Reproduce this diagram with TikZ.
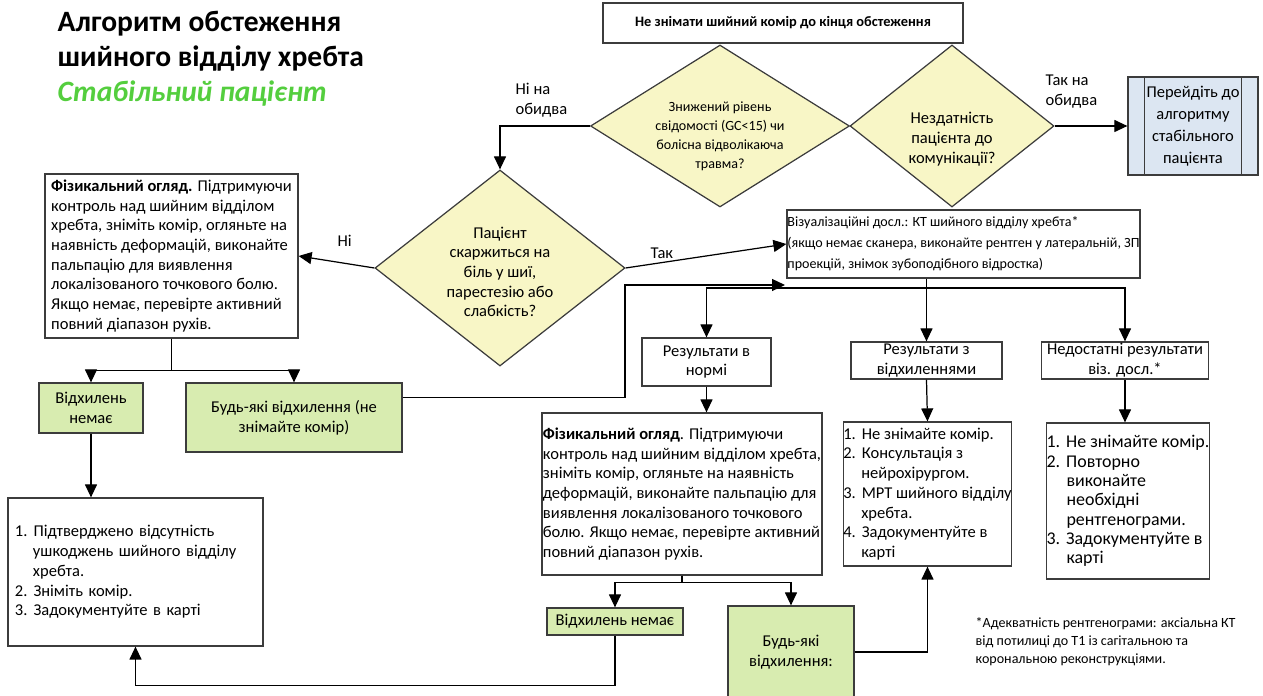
\documentclass[tikz,border=0pt]{standalone}
\usepackage{fontspec}
\setmainfont{Carlito}
\usetikzlibrary{shapes.geometric,arrows.meta}

\definecolor{dia}{RGB}{248,246,198}
\definecolor{okgreen}{RGB}{216,236,176}
\definecolor{bluebox}{RGB}{220,230,242}
\definecolor{titlegreen}{RGB}{84,206,62}
\definecolor{edge}{RGB}{60,60,60}

\tikzset{
        box/.style = {rectangle, draw=edge, line width=0.35pt, fill=white, inner sep=0pt, align=center},
        good/.style = {fill=okgreen},
        dec/.style = {diamond, draw=edge, line width=0.35pt, fill=dia, inner sep=0pt, align=center},
        go/.style = {-{Triangle[length=1.3mm,width=1.2mm]}, line width=0.35pt},
        lab/.style = {inner sep=0pt, align=left, anchor=west}
    }

\begin{document}
\begin{tikzpicture}[x=1cm,y=1cm,every node/.style={font=\fontsize{4.7}{5.6}\selectfont}]
            \useasboundingbox (0,0) rectangle (12.63,-6.96);

            \node[anchor=west, align=left, inner sep=0pt, font=\fontsize{8.4}{10}\selectfont\bfseries] (title) at (0.57,-0.59) {Алгоритм обстеження\\ шийного відділу хребта\\ \textcolor{titlegreen}{\itshape Стабільний пацієнт}};

            \node[box, font=\fontsize{4.1}{5.6}\selectfont\bfseries, minimum width=3.6cm, minimum height=0.4cm] (top) at (7.83,-0.23) {Не знімати шийний комір до кінця обстеження};

            \node[dec, minimum width=2.59cm, minimum height=1.62cm,
                label={[align=center, yshift=-0.1cm, font=\fontsize{4.0}{5.4}\selectfont]center:Знижений рівень\\ свідомості (GC<15) чи\\ болісна відволікаюча\\ травма?}] (d1) at (7.2,-1.26) {};
            \node[dec, minimum width=2.04cm, minimum height=1.62cm,
                label={[align=center, yshift=-0.13cm]center:Нездатність\\ пацієнта до\\ комунікації?}] (d2) at (9.52,-1.26) {};
            \node[box, fill=bluebox, minimum width=1.3cm, minimum height=0.98cm, font=\fontsize{4.7}{6.2}\selectfont] (stable) at (11.93,-1.26) {Перейдіть до\\ алгоритму\\ стабільного\\ пацієнта};
            \draw[line width=0.35pt, draw=edge] ([xshift=0.17cm]stable.north west) -- ([xshift=0.17cm]stable.south west)
                ([xshift=-0.17cm]stable.north east) -- ([xshift=-0.17cm]stable.south east);

            \node[dec, minimum width=2.5cm, minimum height=1.96cm,
                label={[align=center, yshift=-0.04cm]center:Пацієнт\\ скаржиться на\\ біль у шиї,\\ парестезію або\\ слабкість?}] (d3) at (5.0,-2.68) {};

            \node[box, align=left, minimum width=2.53cm, minimum height=1.64cm] (exam1) at (1.715,-2.56) {\textbf{Фізикальний огляд.} Підтримуючи\\ контроль над шийним відділом\\ хребта, зніміть комір, огляньте на\\ наявність деформацій, виконайте\\ пальпацію для виявлення\\ локалізованого точкового болю.\\ Якщо немає, перевірте активний\\ повний діапазон рухів.};

            \node[box, good, minimum width=1.04cm, minimum height=0.5cm] (none1) at (0.91,-4.08) {Відхилень\\ немає};
            \node[box, good, minimum width=2.16cm, minimum height=0.69cm] (any1) at (2.94,-4.175) {Будь-які відхилення (не\\ знімайте комір)};
            \node[box, align=left, text width=2.41cm, inner xsep=0.07cm, minimum height=1.48cm] (done) at (1.355,-5.72) {1.\hspace{0.06cm}Підтверджено відсутність\\ \hspace*{0.18cm}ушкоджень шийного відділу\\ \hspace*{0.18cm}хребта.\\ 2.\hspace{0.06cm}Зніміть комір.\\ 3.\hspace{0.06cm}Задокументуйте в карті};

            \node[box, align=left, minimum width=3.53cm, minimum height=0.68cm, font=\fontsize{4.0}{6}\selectfont] (imaging) at (9.635,-2.44) {Візуалізаційні досл.: КТ шийного відділу хребта*\\ (якщо немає сканера, виконайте рентген у латеральній, ЗП\\ проекцій, знімок зубоподібного відростка)};

            \node[box, minimum width=1.29cm, minimum height=0.48cm] (normal) at (7.065,-3.62) {Результати в\\ нормі};
            \node[box, minimum width=1.51cm, minimum height=0.37cm] (abnormal) at (9.265,-3.605) {Результати з\\ відхиленнями};
            \node[box, minimum width=1.67cm, minimum height=0.37cm] (poor) at (11.25,-3.605) {Недостатні результати\\ віз. досл.*};

            \node[box, align=left, minimum width=2.8cm, minimum height=1.62cm] (exam2) at (6.82,-4.94) {\textbf{Фізикальний огляд}. Підтримуючи\\ контроль над шийним відділом хребта,\\ зніміть комір, огляньте на наявність\\ деформацій, виконайте пальпацію для\\ виявлення локалізованого точкового\\ болю. Якщо немає, перевірте активний\\ повний діапазон рухів.};
            \node[box, good, minimum width=1.36cm, minimum height=0.27cm] (none2) at (6.15,-6.215) {Відхилень немає};
            \node[box, good, minimum width=1.26cm, minimum height=0.92cm] (any2) at (7.91,-6.52) {Будь-які\\ відхилення:};

            \node[box, align=left, minimum width=1.63cm, minimum height=1.44cm] (consult) at (9.275,-4.94) {1.\hspace{0.06cm}Не знімайте комір.\\ 2.\hspace{0.06cm}Консультація з\\ \hspace*{0.18cm}нейрохірургом.\\ 3.\hspace{0.06cm}МРТ шийного відділу\\ \hspace*{0.18cm}хребта.\\ 4.\hspace{0.06cm}Задокументуйте в\\ \hspace*{0.18cm}карті};
            \node[box, align=left, minimum width=1.62cm, minimum height=1.56cm, font=\fontsize{5.1}{5.5}\selectfont] (repeat) at (11.28,-5.01) {1.\hspace{0.06cm}Не знімайте комір.\\ 2.\hspace{0.06cm}Повторно\\ \hspace*{0.2cm}виконайте\\ \hspace*{0.2cm}необхідні\\ \hspace*{0.2cm}рентгенограми.\\ 3.\hspace{0.06cm}Задокументуйте в\\ \hspace*{0.2cm}карті};

            \node[lab, font=\fontsize{4.0}{5.1}\selectfont] (note) at (9.75,-6.42) {*Адекватність рентгенограми: аксіальна КТ\\ від потилиці до Т1 із сагітальною та\\ корональною реконструкціями.};

            % labels on the arrows
            \node[lab] (nobothlab) at (5.15,-1.0) {Ні на\\ обидва};
            \node[lab] (yesbothlab) at (10.45,-0.915) {Так на\\ обидва};
            \node[lab] (nolab) at (3.37,-2.41) {Ні};
            \node[lab] (yeslab) at (6.5,-2.53) {Так};

            % arrows
            \draw[go] (d1.west) -| (d3.north);
            \draw[go] (d2.east) -- (stable.west);
            \draw[go] (d3.west) -- (exam1.east);
            \draw[go] (d3.east) -- (imaging.west);
            \draw[go] (exam1.south) -- ++(0,-0.32) -| (none1.north);
            \draw[go] (exam1.south) -- ++(0,-0.32) -| (any1.north);
            \draw[go] (none1.south) -- (none1.south |- done.north);

            \coordinate (backturn) at (6.25,-2.85);
            \coordinate (back) at (7.85,-2.85);
            \draw[go] ([yshift=0.2cm]any1.east) -| (backturn) -- (back);

            \coordinate (split) at (9.265,-2.88);
            \draw[go] (abnormal.north |- imaging.south) -- (abnormal.north);
            \draw[go] (split) -| (normal.north);
            \draw[go] (split) -| (poor.north);

            \draw[go] (normal.south) -- (normal.south |- exam2.north);
            \draw[go] (exam2.south) -- ++(0,-0.07) -| (none2.north);
            \draw[go] (exam2.south) -- ++(0,-0.07) -| (any2.north);
            \draw[go] (abnormal.south) -- (consult.north);
            \draw[go] (poor.south) -- (poor.south |- repeat.north);
            \draw[go] (none2.south) -- ++(0,-0.5) -| (done.south);
            \draw[go] (any2.east) -| (consult.south);
        \end{tikzpicture}
\end{document}
